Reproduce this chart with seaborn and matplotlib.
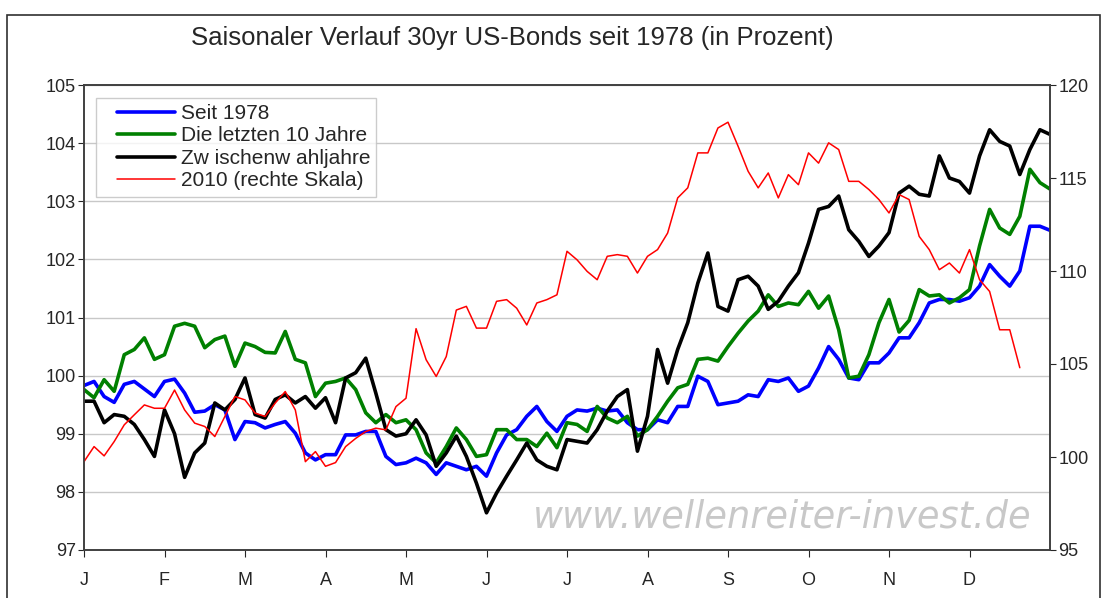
import numpy as np
import pandas as pd
import matplotlib
matplotlib.use("Agg")
import matplotlib.pyplot as plt
from matplotlib.lines import Line2D
from matplotlib.legend_handler import HandlerLine2D
from matplotlib.patches import Rectangle
import seaborn as sns

# Monatsbeschriftung, 8 Stuetzstellen pro Monat
monate = ["J", "F", "M", "A", "M", "J", "J", "A", "S", "O", "N", "D"]
schritte_pro_monat = 8

# Werte (linke Skala)
seit_1978 = [99.83, 99.90, 99.64, 99.54, 99.85, 99.90, 99.77, 99.64, 99.90, 99.94,
             99.70, 99.37, 99.39, 99.50, 99.41, 98.90, 99.21, 99.19, 99.10, 99.16,
             99.21, 99.01, 98.67, 98.55, 98.64, 98.64, 98.98, 98.98, 99.04, 99.04,
             98.61, 98.47, 98.50, 98.58, 98.50, 98.30, 98.50, 98.44, 98.38, 98.44,
             98.27, 98.67, 98.98, 99.07, 99.30, 99.47, 99.21, 99.04, 99.30, 99.41,
             99.39, 99.44, 99.39, 99.41, 99.19, 99.07, 99.07, 99.24, 99.19, 99.47,
             99.47, 99.99, 99.90, 99.50, 99.53, 99.56, 99.67, 99.64, 99.93, 99.90,
             99.96, 99.73, 99.82, 100.13, 100.50, 100.28, 99.96, 99.93, 100.22, 100.22,
             100.39, 100.65, 100.65, 100.91, 101.25, 101.31, 101.31, 101.28, 101.34, 101.54,
             101.91, 101.71, 101.54, 101.80, 102.57, 102.57, 102.50]

letzte_10_jahre = [99.76, 99.62, 99.93, 99.73, 100.36, 100.45, 100.65, 100.28, 100.36, 100.85,
                   100.90, 100.85, 100.48, 100.62, 100.68, 100.16, 100.56, 100.50, 100.40, 100.39,
                   100.76, 100.28, 100.22, 99.64, 99.87, 99.90, 99.96, 99.76, 99.36, 99.19,
                   99.33, 99.19, 99.24, 99.07, 98.67, 98.50, 98.78, 99.10, 98.90, 98.61,
                   98.64, 99.07, 99.07, 98.90, 98.90, 98.78, 99.01, 98.76, 99.19, 99.16,
                   99.04, 99.47, 99.27, 99.19, 99.30, 98.96, 99.07, 99.30, 99.56, 99.79,
                   99.85, 100.28, 100.30, 100.25, 100.50, 100.73, 100.94, 101.11, 101.39, 101.19,
                   101.25, 101.22, 101.45, 101.16, 101.37, 100.79, 99.96, 99.99, 100.36, 100.91,
                   101.31, 100.75, 100.95, 101.48, 101.37, 101.39, 101.25, 101.34, 101.48, 102.23,
                   102.86, 102.54, 102.43, 102.74, 103.55, 103.32, 103.21]

zwischenwahljahre = [99.56, 99.56, 99.19, 99.33, 99.30, 99.16, 98.90, 98.61, 99.41, 99.00,
                     98.25, 98.67, 98.84, 99.53, 99.41, 99.59, 99.96, 99.33, 99.27, 99.59,
                     99.67, 99.53, 99.64, 99.44, 99.62, 99.19, 99.96, 100.05, 100.30, 99.70,
                     99.07, 98.96, 99.00, 99.24, 98.98, 98.44, 98.67, 98.96, 98.61, 98.15,
                     97.64, 97.98, 98.27, 98.55, 98.84, 98.55, 98.44, 98.38, 98.90, 98.87,
                     98.84, 99.07, 99.39, 99.64, 99.76, 98.70, 99.30, 100.45, 99.87, 100.45,
                     100.91, 101.59, 102.11, 101.19, 101.11, 101.65, 101.71, 101.54, 101.14, 101.28,
                     101.54, 101.77, 102.28, 102.86, 102.91, 103.09, 102.51, 102.31, 102.05, 102.23,
                     102.46, 103.14, 103.26, 103.12, 103.09, 103.78, 103.40, 103.34, 103.14, 103.78,
                     104.23, 104.03, 103.95, 103.46, 103.89, 104.23, 104.15]

# 2010, rechte Skala (endet Mitte Dezember)
jahr_2010 = [99.75, 100.56, 100.06, 100.83, 101.73, 102.27, 102.80, 102.62, 102.62, 103.60,
             102.53, 101.82, 101.64, 101.10, 102.18, 103.25, 103.07, 102.36, 102.18, 102.90,
             103.52, 102.53, 99.75, 100.29, 99.50, 99.70, 100.56, 101.00, 101.37, 101.55,
             101.46, 102.71, 103.16, 106.90, 105.23, 104.33, 105.40, 107.90, 108.10, 106.93,
             106.93, 108.37, 108.46, 108.00, 107.10, 108.28, 108.46, 108.72, 111.06, 110.60,
             109.98, 109.53, 110.79, 110.88, 110.79, 109.89, 110.79, 111.15, 112.04, 113.93,
             114.47, 116.35, 116.35, 117.69, 118.00, 116.71, 115.36, 114.47, 115.27, 113.93,
             115.18, 114.64, 116.35, 115.80, 116.89, 116.53, 114.82, 114.82, 114.38, 113.84,
             113.12, 114.11, 113.84, 111.86, 111.15, 110.07, 110.43, 109.89, 111.15, 109.53,
             108.90, 106.84, 106.84, 104.80]

namen = ["Seit 1978", "Die letzten 10 Jahre", "Zw ischenw ahljahre", "2010 (rechte Skala)"]
farben = {namen[0]: "#0000ff", namen[1]: "#008000", namen[2]: "#000000", namen[3]: "#ff0000"}

x = np.arange(len(seit_1978)) / schritte_pro_monat
df = pd.DataFrame({"Monat": x, namen[0]: seit_1978, namen[1]: letzte_10_jahre,
                   namen[2]: zwischenwahljahre})
df_long = df.melt(id_vars="Monat", var_name="Serie", value_name="Wert")
df_2010 = pd.DataFrame({"Monat": np.arange(len(jahr_2010)) / schritte_pro_monat,
                        "Wert": jahr_2010})

sns.set_style("white")
plt.rcParams["font.family"] = ["Liberation Sans", "DejaVu Sans"]

fig = plt.figure(figsize=(11.09, 5.98), dpi=100)
ax = fig.add_axes([84 / 1109, 1 - 550 / 598, 966 / 1109, 465 / 598])

sns.lineplot(data=df_long, x="Monat", y="Wert", hue="Serie", palette=farben,
             hue_order=namen[:3], linewidth=2.6, estimator=None, sort=False,
             legend=False, ax=ax)

ax2 = ax.twinx()
sns.lineplot(data=df_2010, x="Monat", y="Wert", color=farben[namen[3]],
             linewidth=1.1, estimator=None, sort=False, ax=ax2)

# Achsen
ax.set_xlim(0, 12)
ax.set_ylim(97, 105)
ax2.set_ylim(95, 120)
ax.set_yticks(range(97, 106))
ax2.set_yticks(range(95, 121, 5))
ax.set_xticks(range(12))
ax.set_xticklabels(monate)
ax.set_xticks(range(13), minor=True)
ax.set_xlabel("")
ax.set_ylabel("")
ax2.set_ylabel("")

ax.grid(True, which="major", axis="y", color="#c8c8c8", linewidth=1)
ax.grid(True, which="minor", axis="x", color="#c8c8c8", linewidth=1)
ax.set_axisbelow(True)

ax.tick_params(axis="y", labelsize=13, length=4, pad=2, direction="out", left=True)
ax.tick_params(axis="x", which="major", labelsize=13, length=5, pad=11, direction="out", bottom=True)
ax.tick_params(axis="x", which="minor", length=0)
ax2.tick_params(axis="y", labelsize=13, length=4, pad=2, direction="out", right=True)

for a in (ax, ax2):
    for s in a.spines.values():
        s.set_color("#404040")
        s.set_linewidth(1.2)

# Titel
fig.text(512 / 1109, 1 - 38 / 598, "Saisonaler Verlauf 30yr US-Bonds seit 1978 (in Prozent)",
         ha="center", va="center", fontsize=18.5)

# Wasserzeichen
ax.text(782 / 1109, 1 - 517 / 598, "www.wellenreiter-invest.de", transform=fig.transFigure,
        ha="center", va="center", fontsize=26.5, style="italic", color="#c8c8c8",
        family="DejaVu Sans", zorder=1)

# Legende
handles = [Line2D([], [], color=farben[n], linewidth=(1.1 if n == namen[3] else 2.6))
           for n in namen]
leg = ax2.legend(handles, namen, loc="upper left", bbox_to_anchor=(0.0124, 0.973),
                 borderaxespad=0, fontsize=15, frameon=True, fancybox=False,
                 handlelength=3.5, handletextpad=0.26, labelspacing=0.17, borderpad=0.3,
                 handler_map={Line2D: HandlerLine2D(xpad=0.72)})
leg.get_frame().set_edgecolor("#c0c0c0")
leg.get_frame().set_linewidth(1)

# Rahmen um die Grafik
fig.patches.append(Rectangle((7 / 1109, -0.05), 1093 / 1109, 1.05 - 15 / 598,
                             transform=fig.transFigure, fill=False,
                             edgecolor="#303030", linewidth=1.2))

fig.savefig("out.png", dpi=100)
